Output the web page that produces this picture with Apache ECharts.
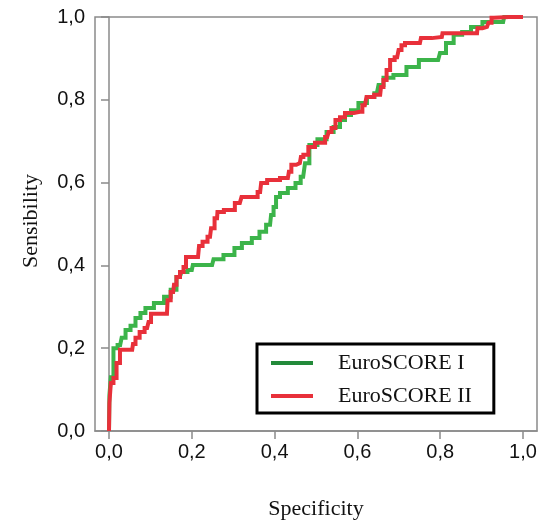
<!DOCTYPE html>
<html>
<head>
<meta charset="utf-8">
<script src="https://cdn.jsdelivr.net/npm/echarts@6/dist/echarts.min.js"></script>
<style>
  html, body { margin: 0; padding: 0; background: #fff; }
  #chart { width: 551px; height: 523px; }
</style>
</head>
<body>
<div id="chart"></div>
<script>
// ROC curves: x = 1 - specificity (labelled "Specificity"), y = sensitivity
const seriesNames = ['EuroSCORE I', 'EuroSCORE II'];
const tickValues = [0, 0.2, 0.4, 0.6, 0.8, 1.0];

const euroscore1X = [0, 0.002, 0.007, 0.0145, 0.027, 0.034, 0.046, 0.058, 0.070, 0.082, 0.094, 0.123, 0.143, 0.155, 0.171, 0.179, 0.200, 0.205, 0.249, 0.256, 0.297, 0.309, 0.333, 0.357, 0.370, 0.389, 0.394, 0.401, 0.406, 0.420, 0.444, 0.457, 0.469, 0.478, 0.490, 0.517, 0.534, 0.551, 0.565, 0.575, 0.594, 0.611, 0.635, 0.647, 0.655, 0.671, 0.703, 0.734, 0.763, 0.795, 0.804, 0.824, 0.841, 0.865, 0.884, 0.920, 0.952, 0.957, 1.0];
const euroscore1Y = [0, 0.087, 0.130, 0.200, 0.208, 0.225, 0.244, 0.254, 0.273, 0.285, 0.297, 0.309, 0.324, 0.341, 0.372, 0.384, 0.389, 0.401, 0.401, 0.415, 0.425, 0.442, 0.454, 0.466, 0.481, 0.498, 0.522, 0.541, 0.565, 0.575, 0.587, 0.599, 0.614, 0.647, 0.691, 0.705, 0.722, 0.734, 0.751, 0.763, 0.775, 0.792, 0.807, 0.816, 0.836, 0.853, 0.860, 0.879, 0.896, 0.896, 0.913, 0.937, 0.957, 0.964, 0.976, 0.988, 0.988, 1.0, 1.0];

const euroscore2X = [0, 0.002, 0.007, 0.0145, 0.022, 0.031, 0.056, 0.060, 0.068, 0.080, 0.092, 0.099, 0.104, 0.140, 0.143, 0.155, 0.159, 0.167, 0.176, 0.184, 0.188, 0.215, 0.220, 0.232, 0.244, 0.249, 0.261, 0.263, 0.292, 0.316, 0.324, 0.353, 0.365, 0.370, 0.394, 0.432, 0.437, 0.444, 0.461, 0.466, 0.473, 0.490, 0.505, 0.517, 0.527, 0.534, 0.541, 0.553, 0.563, 0.577, 0.606, 0.618, 0.626, 0.655, 0.659, 0.667, 0.674, 0.684, 0.696, 0.703, 0.710, 0.720, 0.751, 0.756, 0.804, 0.807, 0.889, 0.891, 0.913, 0.920, 0.928, 0.932, 1.0];
const euroscore2Y = [0, 0.068, 0.116, 0.128, 0.164, 0.196, 0.196, 0.210, 0.225, 0.239, 0.249, 0.263, 0.283, 0.283, 0.316, 0.336, 0.353, 0.372, 0.384, 0.396, 0.420, 0.420, 0.447, 0.457, 0.469, 0.490, 0.514, 0.529, 0.534, 0.551, 0.565, 0.565, 0.577, 0.599, 0.606, 0.611, 0.626, 0.643, 0.647, 0.662, 0.667, 0.686, 0.696, 0.696, 0.710, 0.722, 0.732, 0.751, 0.758, 0.768, 0.771, 0.787, 0.807, 0.812, 0.831, 0.848, 0.872, 0.896, 0.903, 0.920, 0.932, 0.937, 0.937, 0.949, 0.952, 0.961, 0.961, 0.973, 0.976, 0.986, 0.998, 1.0, 1.0];

const pairs = (xs, ys) => xs.map((x, i) => [x, ys[i]]);
const comma = v => v.toFixed(1).replace('.', ',');

const axisGray = '#8a8a8a';
const sans = '"Liberation Sans", Arial, sans-serif';
const serif = '"Liberation Serif", "Times New Roman", serif';

const chart = echarts.init(document.getElementById('chart'), null, { renderer: 'canvas' });
chart.setOption({
  animation: false,
  backgroundColor: '#fff',
  grid: {
    left: 95, right: 14, top: 17, bottom: 92,
    containLabel: false, outerBoundsMode: 'none',
    show: true, borderColor: axisGray, borderWidth: 1.5, backgroundColor: 'transparent'
  },
  xAxis: {
    type: 'value',
    min: -14 / 414, max: 1 + 14 / 414,
    name: 'Specificity', nameLocation: 'middle', nameGap: 67,
    nameTextStyle: { fontFamily: serif, fontSize: 22, color: '#111' },
    axisLine: { show: true, lineStyle: { color: axisGray, width: 1.5 } },
    axisTick: { show: true, inside: false, length: 8, lineStyle: { color: axisGray, width: 1.5 }, customValues: tickValues },
    axisLabel: { show: true, margin: 11, fontFamily: sans, fontSize: 20, color: '#111', customValues: tickValues, formatter: comma },
    splitLine: { show: false }
  },
  yAxis: {
    type: 'value',
    min: 0, max: 1, interval: 0.2,
    name: 'Sensibility', nameLocation: 'middle', nameGap: 53,
    nameTextStyle: { fontFamily: serif, fontSize: 22, color: '#111', padding: [0, 0, 0, 6] },
    axisLine: { show: true, lineStyle: { color: axisGray, width: 1.5 } },
    axisTick: { show: true, inside: false, length: 8, lineStyle: { color: axisGray, width: 1.5 } },
    axisLabel: { show: true, margin: 10, fontFamily: sans, fontSize: 20, color: '#111', formatter: comma },
    splitLine: { show: false }
  },
  legend: {
    left: 257, top: 344,
    orient: 'vertical',
    backgroundColor: '#fff',
    borderColor: '#000', borderWidth: 3, borderRadius: 0,
    padding: [8, 22, 6, 14],
    itemGap: 11,
    itemWidth: 42, itemHeight: 4,
    icon: 'rect',
    textStyle: { fontFamily: serif, fontSize: 22, color: '#111', lineHeight: 22, padding: [0, 0, 0, 20] },
    data: [
      { name: seriesNames[0], itemStyle: { color: '#238a3a' } },
      { name: seriesNames[1], itemStyle: { color: '#e8303a' } }
    ]
  },
  series: [
    {
      name: seriesNames[0], type: 'line', data: pairs(euroscore1X, euroscore1Y),
      showSymbol: false, symbol: 'none', step: 'middle',
      lineStyle: { color: '#3cb44a', width: 4, join: 'miter' },
      itemStyle: { color: '#3cb44a' }, z: 3
    },
    {
      name: seriesNames[1], type: 'line', data: pairs(euroscore2X, euroscore2Y),
      showSymbol: false, symbol: 'none', step: 'middle',
      lineStyle: { color: '#e8303a', width: 4, join: 'miter' },
      itemStyle: { color: '#e8303a' }, z: 4
    }
  ]
});
</script>
</body>
</html>
